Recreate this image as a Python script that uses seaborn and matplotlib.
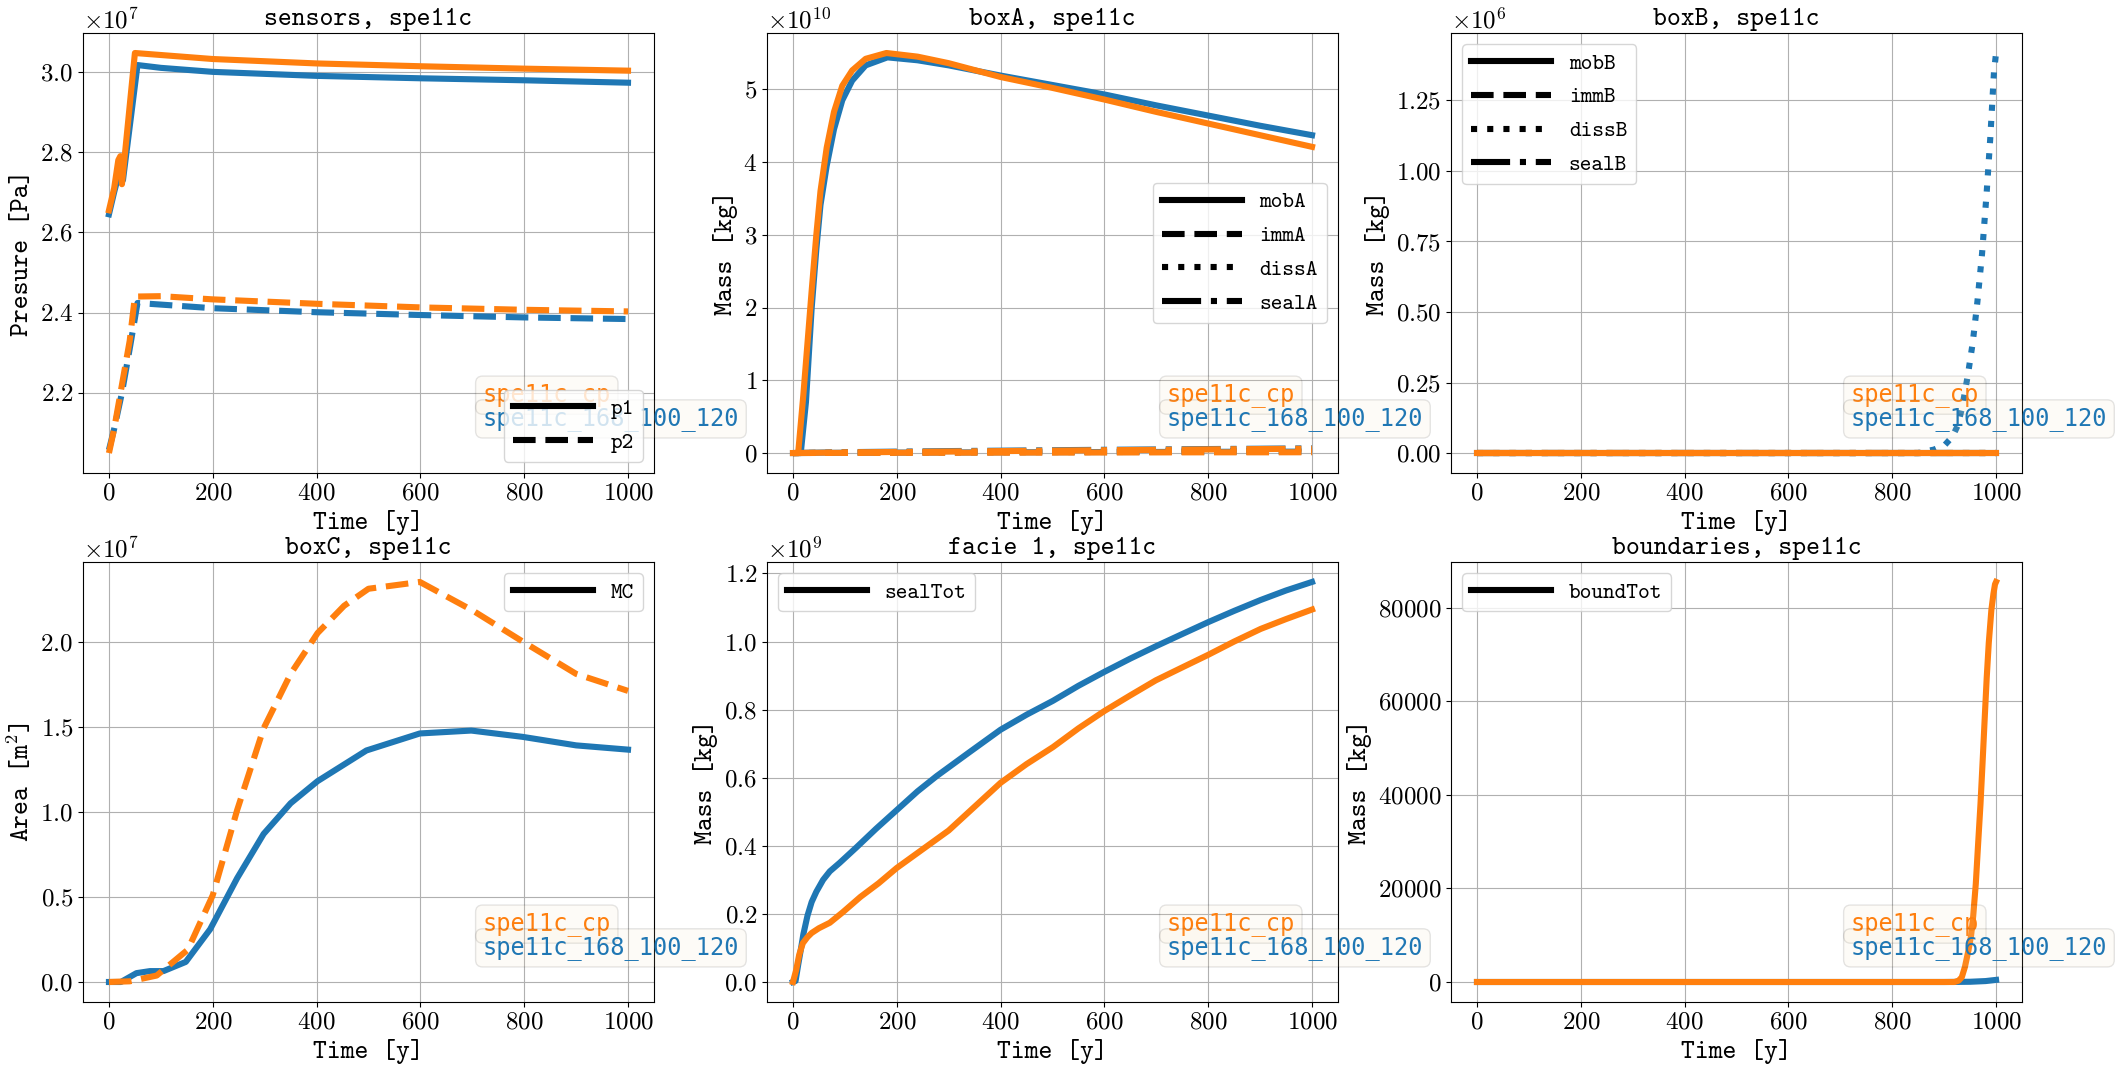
import numpy as np
import matplotlib
matplotlib.use("Agg")
import matplotlib.pyplot as plt
from matplotlib.lines import Line2D
from matplotlib.ticker import MultipleLocator
import seaborn as sns

plt.rcParams["font.family"] = "cmr10"
plt.rcParams["mathtext.fontset"] = "cm"
plt.rcParams["axes.formatter.use_mathtext"] = True

BLUE = "#1f77b4"
ORANGE = "#ff7f0e"
runs = ["spe11c_cp", "spe11c_168_100_120"]

# ---- sensors (x1e7 Pa)
t_p1_b = [0, 10, 20, 22, 27, 55, 100, 200, 400, 600, 800, 1000]
p1_b = [2.645, 2.70, 2.75, 2.76, 2.73, 3.017, 3.010, 3.000, 2.990, 2.984, 2.979, 2.973]
t_p1_o = [0, 10, 18, 22, 25, 50, 100, 200, 400, 600, 800, 1000]
p1_o = [2.655, 2.71, 2.78, 2.79, 2.72, 3.047, 3.042, 3.032, 3.021, 3.014, 3.008, 3.003]
t_p2_b = [0, 10, 25, 40, 55, 100, 200, 400, 600, 800, 1000]
p2_b = [2.058, 2.11, 2.20, 2.31, 2.424, 2.420, 2.411, 2.401, 2.394, 2.388, 2.384]
t_p2_o = [0, 10, 25, 40, 50, 100, 200, 400, 600, 800, 1000]
p2_o = [2.050, 2.11, 2.22, 2.33, 2.440, 2.441, 2.433, 2.422, 2.413, 2.407, 2.403]

# ---- boxA (x1e10 kg)
t_mobA_b = [0, 15, 25, 36, 45, 53, 65, 79, 95, 114, 140, 182, 240, 300, 400, 500, 600, 700, 800, 900, 1000]
mobA_b = [0, 0, 0.7, 1.99, 2.8, 3.41, 3.95, 4.45, 4.85, 5.12, 5.33, 5.44, 5.40, 5.33, 5.19, 5.06, 4.93, 4.78, 4.64, 4.50, 4.37]
t_mobA_o = [0, 10, 20, 36, 45, 53, 65, 79, 95, 114, 140, 180, 240, 300, 400, 500, 600, 700, 800, 900, 1000]
mobA_o = [0, 0, 0.8, 2.23, 3.0, 3.6, 4.2, 4.69, 5.05, 5.26, 5.42, 5.50, 5.45, 5.36, 5.17, 5.02, 4.86, 4.69, 4.53, 4.37, 4.21]
t_A = [0, 100, 200, 300, 400, 500, 600, 700, 800, 900, 1000]
immA_b = [0, 0.004, 0.006, 0.008, 0.010, 0.012, 0.014, 0.015, 0.017, 0.018, 0.020]
immA_o = [0, 0.003, 0.004, 0.005, 0.006, 0.007, 0.008, 0.009, 0.010, 0.010, 0.011]
dissA_b = [0, 0.005, 0.008, 0.011, 0.014, 0.017, 0.020, 0.023, 0.025, 0.028, 0.030]
dissA_o = [0, 0.004, 0.006, 0.008, 0.010, 0.012, 0.014, 0.016, 0.017, 0.019, 0.020]
sealA_b = [0, 0.012, 0.020, 0.027, 0.033, 0.039, 0.045, 0.050, 0.055, 0.060, 0.065]
sealA_o = [0, 0.008, 0.015, 0.021, 0.027, 0.033, 0.039, 0.044, 0.050, 0.055, 0.060]

# ---- boxB (x1e6 kg)
t_B = [0, 250, 500, 750, 1000]
zero_B = [0, 0, 0, 0, 0]
t_dissB_b = [0, 850, 863, 880, 901, 916, 926, 935, 946, 955, 964, 973, 982, 989, 996, 1000]
dissB_b = [0, 0, 0.006, 0.012, 0.028, 0.058, 0.097, 0.164, 0.28, 0.39, 0.535, 0.706, 0.925, 1.12, 1.35, 1.418]

# ---- boxC (x1e7 m2)
t_MC_b = [0, 23, 53, 79, 105, 148, 195, 247, 298, 350, 402, 496, 599, 698, 797, 900, 1000]
MC_b = [0, 0, 0.052, 0.064, 0.064, 0.118, 0.31, 0.61, 0.87, 1.05, 1.18, 1.36, 1.46, 1.477, 1.44, 1.39, 1.365]
t_MC_o = [0, 40, 92, 152, 200, 247, 298, 350, 402, 453, 500, 599, 702, 797, 900, 1000]
MC_o = [0, 0.004, 0.038, 0.19, 0.51, 1.01, 1.49, 1.81, 2.05, 2.21, 2.31, 2.35, 2.18, 2.00, 1.81, 1.71]

# ---- facie 1 (x1e9 kg)
t_seal_b = [0, 5, 10, 15, 20, 28, 36, 45, 58, 71, 90, 122, 160, 200, 240, 277, 340, 400, 450,
            501, 550, 600, 650, 699, 750, 800, 850, 901, 950, 1000]
seal_b = [0, 0.003, 0.05, 0.094, 0.14, 0.195, 0.235, 0.265, 0.30, 0.325, 0.35, 0.395, 0.45, 0.505,
          0.56, 0.605, 0.675, 0.741, 0.785, 0.826, 0.87, 0.911, 0.95, 0.986, 1.022, 1.057, 1.09,
          1.122, 1.15, 1.175]
t_seal_o = [0, 6, 12, 19, 28, 36, 50, 71, 96, 130, 165, 200, 250, 300, 350, 400, 450, 501, 550,
            600, 650, 699, 750, 800, 850, 901, 950, 1000]
seal_o = [0, 0.034, 0.08, 0.114, 0.132, 0.144, 0.158, 0.174, 0.205, 0.25, 0.29, 0.335, 0.39,
          0.445, 0.515, 0.585, 0.64, 0.69, 0.745, 0.796, 0.842, 0.886, 0.924, 0.961, 1.0, 1.037,
          1.066, 1.094]

# ---- boundaries (kg)
t_bound_b = [0, 900, 950, 980, 1000]
bound_b = [0, 0, 50, 200, 450]
t_bound_o = [0, 900, 920, 928, 934, 940, 947, 952, 956, 961, 965, 970, 974, 978, 982, 986, 991,
             995, 998, 1000]
bound_o = [0, 0, 0, 300, 1020, 3200, 6840, 10000, 14100, 21000, 28650, 38000, 46800, 56000,
           65000, 72500, 79500, 83000, 85000, 85500]

fig = plt.figure(figsize=(21.15, 10.76), dpi=100)
axes = fig.subplots(2, 3)
fig.subplots_adjust(left=83 / 2115, right=2022 / 2115, top=1 - 33 / 1076,
                    bottom=1 - 1002 / 1076, wspace=0.198, hspace=0.202)

LW = 4.4
TT = "cmtt10"


def draw(ax, t, y, color, ls="-", scale=1.0):
    sns.lineplot(x=t, y=np.asarray(y) * scale, ax=ax, color=color,
                 linestyle=ls, lw=LW, legend=False, sort=False)


def finish(ax, title, ylabel, names, styles, loc):
    ax.set_title(title, family=TT, fontsize=19)
    ax.set_xlabel("Time [y]", family=TT, fontsize=19)
    ax.set_ylabel(ylabel, family=TT, fontsize=19)
    ax.tick_params(labelsize=18)
    ax.yaxis.get_offset_text().set_fontsize(18)
    ax.grid(True, color="#b0b0b0", lw=0.8)
    ax.set_axisbelow(True)
    handles = [Line2D([], [], color="black", lw=LW, linestyle=s) for s in styles]
    leg = ax.legend(handles, names, loc=loc, handlelength=3.6,
                    labelspacing=0.6, prop={"family": TT, "size": 16})
    leg.set_zorder(6)
    for yy, run, c in [(0.177, runs[0], ORANGE), (0.123, runs[1], BLUE)]:
        ax.text(0.7, yy, run, transform=ax.transAxes, color=c, fontsize=17,
                family="DejaVu Sans Mono", va="center", ha="left",
                bbox=dict(boxstyle="round", facecolor="wheat", alpha=0.1))


ax = axes[0, 0]
draw(ax, t_p1_b, p1_b, BLUE, "-", 1e7)
draw(ax, t_p2_b, p2_b, BLUE, "--", 1e7)
draw(ax, t_p1_o, p1_o, ORANGE, "-", 1e7)
draw(ax, t_p2_o, p2_o, ORANGE, "--", 1e7)
finish(ax, "sensors, spe11c", "Presure [Pa]", ["p1", "p2"], ["-", "--"], "lower right")

ax = axes[0, 1]
for col, tm, mob, imm, dis, sea in [(BLUE, t_mobA_b, mobA_b, immA_b, dissA_b, sealA_b),
                                     (ORANGE, t_mobA_o, mobA_o, immA_o, dissA_o, sealA_o)]:
    draw(ax, tm, mob, col, "-", 1e10)
    draw(ax, t_A, imm, col, "--", 1e10)
    draw(ax, t_A, dis, col, ":", 1e10)
    draw(ax, t_A, sea, col, "-.", 1e10)
finish(ax, "boxA, spe11c", "Mass [kg]", ["mobA", "immA", "dissA", "sealA"],
       ["-", "--", ":", "-."], "center right")

ax = axes[0, 2]
draw(ax, t_B, zero_B, BLUE, "-", 1e6)
draw(ax, t_B, zero_B, BLUE, "--", 1e6)
draw(ax, t_dissB_b, dissB_b, BLUE, ":", 1e6)
draw(ax, t_B, zero_B, BLUE, "-.", 1e6)
for ls in ["-", "--", ":", "-."]:
    draw(ax, t_B, zero_B, ORANGE, ls, 1e6)
ax.yaxis.set_major_locator(MultipleLocator(0.25e6))
finish(ax, "boxB, spe11c", "Mass [kg]", ["mobB", "immB", "dissB", "sealB"],
       ["-", "--", ":", "-."], "upper left")

ax = axes[1, 0]
draw(ax, t_MC_b, MC_b, BLUE, "-", 1e7)
draw(ax, t_MC_o, MC_o, ORANGE, "--", 1e7)
finish(ax, "boxC, spe11c", "Area [m$^2$]", ["MC"], ["-"], "upper right")

ax = axes[1, 1]
draw(ax, t_seal_b, seal_b, BLUE, "-", 1e9)
draw(ax, t_seal_o, seal_o, ORANGE, "-", 1e9)
finish(ax, "facie 1, spe11c", "Mass [kg]", ["sealTot"], ["-"], "upper left")

ax = axes[1, 2]
draw(ax, t_bound_b, bound_b, BLUE, "-")
draw(ax, t_bound_o, bound_o, ORANGE, "-")
finish(ax, "boundaries, spe11c", "Mass [kg]", ["boundTot"], ["-"], "upper left")

fig.savefig("out.png", dpi=100)
